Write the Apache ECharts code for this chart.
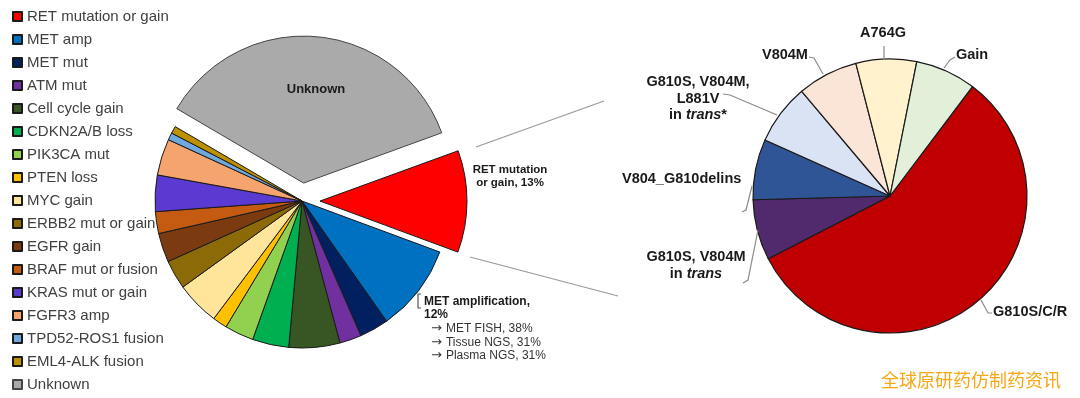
<!DOCTYPE html>
<html>
<head>
<meta charset="utf-8">
<script src="https://cdn.jsdelivr.net/npm/echarts@6/dist/echarts.min.js"></script>
<style>
  html, body { margin: 0; padding: 0; background: #fff; }
  #chart { width: 1080px; height: 398px; }
</style>
</head>
<body>
<div id="chart"></div>
<script>
// 左侧饼图：各耐药机制（按图中扇区角度估读）
const mechNames = ['RET mutation or gain', 'MET amp', 'MET mut', 'ATM mut', 'Cell cycle gain',
  'CDKN2A/B loss', 'PIK3CA mut', 'PTEN loss', 'MYC gain', 'ERBB2 mut or gain', 'EGFR gain',
  'BRAF mut or fusion', 'KRAS mut or gain', 'FGFR3 amp', 'TPD52-ROS1 fusion', 'EML4-ALK fusion', 'Unknown']
const mechValues = [14, 12, 4, 3, 7, 5, 4, 2, 6, 4, 4, 3, 5, 5, 1, 1, 45]
const mechColors = ['#ff0000', '#0070c0', '#002060', '#7030a0', '#375623', '#00b050', '#92d050',
  '#ffc000', '#ffe599', '#8c6a08', '#7b3a10', '#c55a11', '#5a3ad0', '#f4a46c', '#6fa8dc', '#bf9000', '#aaaaaa']
const mechExploded = ['RET mutation or gain', 'Unknown']

// 右侧饼图：RET 突变细分
const retNames = ['G810S/C/R', 'G810S, V804M in trans', 'V804_G810delins',
  'G810S, V804M, L881V in trans*', 'V804M', 'A764G', 'Gain']
const retValues = [8, 1, 1, 1, 1, 1, 1]
const retColors = ['#c00000', '#512a6e', '#2f5597', '#dae3f3', '#fbe5d6', '#fff2cc', '#e2f0d9']

const FONT = "'Liberation Sans', Arial, sans-serif"
const LINE = '#8a8a8a'

const chart = echarts.init(document.getElementById('chart'))

function label (x, y, text, opt) {
  return {
    type: 'text', x: x, y: y, z: 100, silent: true,
    style: Object.assign({
      text: text, fill: '#1a1a1a', font: 'bold 14.5px ' + FONT,
      align: 'left', verticalAlign: 'middle'
    }, opt || {})
  }
}
function leader (points, color) {
  return {
    type: 'polyline', z: 100, silent: true,
    shape: { points: points },
    style: { stroke: color || LINE, lineWidth: 1.2, fill: null }
  }
}

const transRich = {
  b: { font: 'bold 14.5px ' + FONT, fill: '#1a1a1a' },
  i: { font: 'italic bold 14.5px ' + FONT, fill: '#1a1a1a' }
}
const arrowRich = {
  a: { font: '13px "DejaVu Sans", sans-serif', fill: '#333' },
  t: { font: '12px ' + FONT, fill: '#333' }
}

chart.setOption({
  animation: false,
  legend: {
    orient: 'vertical',
    left: 12,
    top: 9,
    padding: 0,
    itemWidth: 9,
    itemHeight: 9,
    itemGap: 8,
    icon: 'rect',
    selectedMode: false,
    data: mechNames,
    textStyle: { color: '#404040', fontSize: 15, lineHeight: 15, fontFamily: FONT }
  },
  series: [
    {
      name: 'mechanism',
      type: 'pie',
      center: [302, 201],
      radius: 147,
      startAngle: 20,
      selectedMode: 'multiple',
      selectedOffset: 18,
      label: { show: false },
      labelLine: { show: false },
      emphasis: { disabled: true },
      itemStyle: { borderColor: '#1a1a1a', borderWidth: 1 },
      data: mechNames.map((n, i) => ({
        name: n,
        value: mechValues[i],
        selected: mechExploded.includes(n),
        itemStyle: { color: mechColors[i], borderColor: n === 'Unknown' ? '#444' : '#1a1a1a' }
      }))
    },
    {
      name: 'RET',
      type: 'pie',
      center: [890, 196],
      radius: 137,
      startAngle: 53,
      label: { show: false },
      labelLine: { show: false },
      emphasis: { disabled: true },
      itemStyle: { borderColor: '#1a1a1a', borderWidth: 1.2 },
      data: retNames.map((n, i) => ({ name: n, value: retValues[i], itemStyle: { color: retColors[i] } }))
    }
  ],
  graphic: [
    // 两饼之间的连线
    leader([[476, 147], [604, 101]], '#999'),
    leader([[470, 257], [618, 296]], '#999'),

    // 左饼标注
    label(316, 89, 'Unknown', { align: 'center', font: 'bold 13px ' + FONT }),
    label(510, 176.5, 'RET mutation\nor gain, 13%', { align: 'center', font: 'bold 11.5px ' + FONT, lineHeight: 13.5 }),
    label(424, 308, 'MET amplification,\n12%', { font: 'bold 12px ' + FONT, lineHeight: 12.5 }),
    leader([[421, 294], [418, 294], [418, 308], [421, 308]], '#555'),
    label(431, 342.5, '{a|\u2192} {t|MET FISH, 38%}\n{a|\u2192} {t|Tissue NGS, 31%}\n{a|\u2192} {t|Plasma NGS, 31%}',
      { lineHeight: 13.5, rich: arrowRich }),

    // 右饼标注
    label(883, 33, 'A764G', { align: 'center' }),
    leader([[884, 46], [884, 60]]),
    label(762, 55, 'V804M'),
    leader([[809, 57], [814, 58], [823, 74]]),
    label(956, 55, 'Gain'),
    leader([[955, 57], [950, 60], [944, 68]]),
    label(698, 98.5, '{b|G810S, V804M,}\n{b|L881V}\n{b|in }{i|trans}{b|*}',
      { align: 'center', lineHeight: 16.5, rich: transRich }),
    leader([[723, 94], [730, 95], [777, 115]]),
    label(622, 179, 'V804_G810delins'),
    leader([[752, 186], [746, 210], [742, 212]]),
    label(696, 265.5, '{b|G810S, V804M}\n{b|in }{i|trans}',
      { align: 'center', lineHeight: 17, rich: transRich }),
    leader([[758, 230], [748, 280], [743, 283]]),
    label(993, 312, 'G810S/C/R'),
    leader([[981, 300], [988, 313], [992, 313]]),

    // 水印
    label(881, 380, '全球原研药仿制药资讯', {
      font: '18px "Noto Sans CJK SC", sans-serif',
      fill: '#f5a714'
    })
  ]
})
</script>
</body>
</html>
